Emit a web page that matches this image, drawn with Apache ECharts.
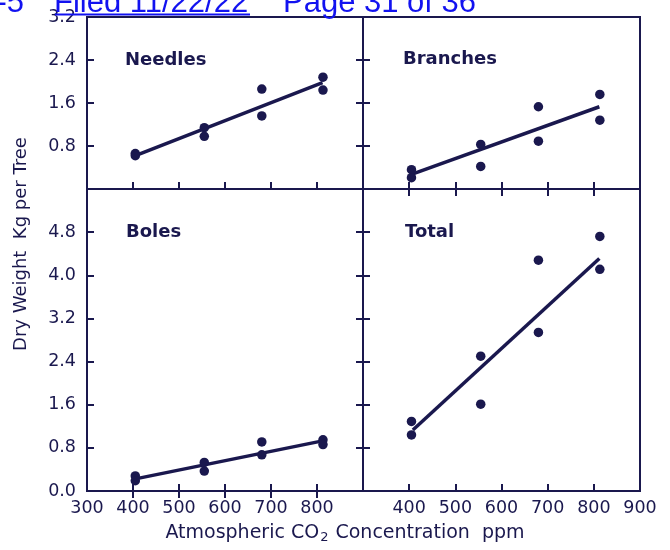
<!DOCTYPE html>
<html>
<head>
<meta charset="utf-8">
<script src="https://cdn.jsdelivr.net/npm/echarts@6/dist/echarts.min.js"></script>
<style>
  html, body { margin: 0; padding: 0; background: #ffffff; }
  #chart { width: 670px; height: 550px; }
</style>
</head>
<body>
<div id="chart"></div>
<script>
// CO2 treatment level of each plotted tree (two trees per level)
const co2Levels = [405, 405, 555, 555, 680, 680, 813, 813];

// Dry weight per tree, kg
const needlesKg  = [0.66, 0.62, 1.14, 0.98, 1.86, 1.36, 2.08, 1.84];
const branchesKg = [0.36, 0.21, 0.83, 0.42, 1.53, 0.89, 1.76, 1.28];
const bolesKg    = [0.28, 0.19, 0.53, 0.37, 0.91, 0.67, 0.95, 0.86];
const totalKg    = [1.29, 1.04, 2.50, 1.61, 4.28, 2.94, 4.72, 4.11];

// Regression line end points
const fitCo2      = [408, 812];
const needlesFit  = [0.63, 1.98];
const branchesFit = [0.28, 1.53];
const bolesFit    = [0.23, 0.93];
const totalFit    = [1.13, 4.31];

// Panel names
const panelNames = ['Needles', 'Branches', 'Boles', 'Total'];

// Tick values and labels
const xTickValues     = [400, 500, 600, 700, 800];
const xLabelsLeft     = [300, 400, 500, 600, 700, 800];
const xLabelsRight    = [400, 500, 600, 700, 800, 900];
const yTopTickValues  = [0.8, 1.6, 2.4];
const yTopLabels      = [0.8, 1.6, 2.4, 3.2];
const yBotTickValues  = [0.8, 1.6, 2.4, 3.2, 4.0, 4.8];
const yBotLabels      = [0.0, 0.8, 1.6, 2.4, 3.2, 4.0, 4.8];

const ink = '#1a184e';
const font = 'DejaVu Sans';
const stampBlue = '#1212f0';

const chart = echarts.init(document.getElementById('chart'), null, { renderer: 'canvas' });

function pairs(xs, ys) { return xs.map((x, i) => [x, ys[i]]); }

function xAxis(gridIndex, position, labelValues) {
  return {
    type: 'value', gridIndex, position, min: 300, max: 900, interval: 100,
    axisLine: { show: false },
    splitLine: { show: false },
    axisTick: { show: true, inside: true, length: 7, customValues: xTickValues,
                lineStyle: { color: ink, width: 2 } },
    axisLabel: labelValues ? {
      show: true, customValues: labelValues, margin: 8,
      color: ink, fontFamily: font, fontSize: 17.5,
      formatter: v => String(v)
    } : { show: false }
  };
}

function yAxis(gridIndex, position, max, tickValues, labelValues) {
  return {
    type: 'value', gridIndex, position, min: 0, max, interval: 0.8,
    axisLine: { show: false },
    splitLine: { show: false },
    axisTick: { show: true, inside: true, length: 7, customValues: tickValues,
                lineStyle: { color: ink, width: 2 } },
    axisLabel: labelValues ? {
      show: true, customValues: labelValues, margin: 11,
      color: ink, fontFamily: font, fontSize: 17.5,
      formatter: v => v.toFixed(1)
    } : { show: false }
  };
}

function scatter(idx, ys) {
  return {
    type: 'scatter', xAxisIndex: idx, yAxisIndex: idx,
    data: pairs(co2Levels, ys), symbol: 'circle', symbolSize: 9.5,
    itemStyle: { color: ink, opacity: 1 }, z: 3
  };
}

function fit(idx, ys) {
  return {
    type: 'line', xAxisIndex: idx, yAxisIndex: idx,
    data: pairs(fitCo2, ys), showSymbol: false, symbol: 'none',
    lineStyle: { color: ink, width: 3.5 }, z: 2
  };
}

const gridStyle = { show: true, borderColor: ink, borderWidth: 2, backgroundColor: 'transparent' };

const titleStyle = { fill: ink, fontFamily: font, fontWeight: 'bold', fontSize: 18, verticalAlign: 'middle' };
const stampStyle = { fill: stampBlue, fontFamily: 'Liberation Sans', fontSize: 31, verticalAlign: 'bottom' };

chart.setOption({
  animation: false,
  backgroundColor: '#ffffff',
  grid: [
    Object.assign({ left: 87,  top: 17,  width: 276, height: 172 }, gridStyle),
    Object.assign({ left: 363, top: 17,  width: 277, height: 172 }, gridStyle),
    Object.assign({ left: 87,  top: 189, width: 276, height: 302 }, gridStyle),
    Object.assign({ left: 363, top: 189, width: 277, height: 302 }, gridStyle)
  ],
  xAxis: [
    xAxis(0, 'bottom', null),
    xAxis(1, 'bottom', null),
    xAxis(2, 'bottom', xLabelsLeft),
    xAxis(3, 'bottom', xLabelsRight),
    xAxis(2, 'top', null),
    xAxis(3, 'top', null)
  ],
  yAxis: [
    yAxis(0, 'left', 3.2, yTopTickValues, yTopLabels),
    yAxis(1, 'left', 3.2, yTopTickValues, null),
    yAxis(2, 'left', 5.6, yBotTickValues, yBotLabels),
    yAxis(3, 'left', 5.6, yBotTickValues, null),
    yAxis(0, 'right', 3.2, yTopTickValues, null),
    yAxis(2, 'right', 5.6, yBotTickValues, null)
  ],
  series: [
    scatter(0, needlesKg),  fit(0, needlesFit),
    scatter(1, branchesKg), fit(1, branchesFit),
    scatter(2, bolesKg),    fit(2, bolesFit),
    scatter(3, totalKg),    fit(3, totalFit)
  ],
  graphic: [
    { type: 'text', x: 125, y: 60,  style: Object.assign({ text: panelNames[0] }, titleStyle) },
    { type: 'text', x: 403, y: 59,  style: Object.assign({ text: panelNames[1] }, titleStyle) },
    { type: 'text', x: 126, y: 232, style: Object.assign({ text: panelNames[2] }, titleStyle) },
    { type: 'text', x: 405, y: 232, style: Object.assign({ text: panelNames[3] }, titleStyle) },
    {
      type: 'text', x: 21, y: 244, rotation: Math.PI / 2,
      style: { text: 'Dry Weight  Kg per Tree', fill: ink, fontFamily: font, fontSize: 18,
               align: 'center', verticalAlign: 'middle' }
    },
    {
      type: 'text', x: 345, y: 524,
      style: {
        text: '{a|Atmospheric CO}{s|2}{a| Concentration  ppm}',
        align: 'center', verticalAlign: 'top',
        rich: {
          a: { fill: ink, fontFamily: font, fontSize: 19, lineHeight: 22, verticalAlign: 'top' },
          s: { fill: ink, fontFamily: font, fontSize: 13, lineHeight: 13, verticalAlign: 'top', padding: [7, 1, 0, 1] }
        }
      }
    },
    // filing stamp across the top edge
    { type: 'text', x: 24, y: 19, z: 100,
      style: Object.assign({ text: '-5', align: 'right' }, stampStyle) },
    { type: 'text', x: 54, y: 19, z: 100,
      style: Object.assign({ text: 'Filed 11/22/22', align: 'left' }, stampStyle) },
    { type: 'text', x: 283, y: 19, z: 100,
      style: Object.assign({ text: 'Page 31 of 36', align: 'left' }, stampStyle) },
    { type: 'line', z: 100, shape: { x1: 55, y1: 14.5, x2: 250, y2: 14.5 },
      style: { stroke: stampBlue, lineWidth: 2 } }
  ]
});
</script>
</body>
</html>
